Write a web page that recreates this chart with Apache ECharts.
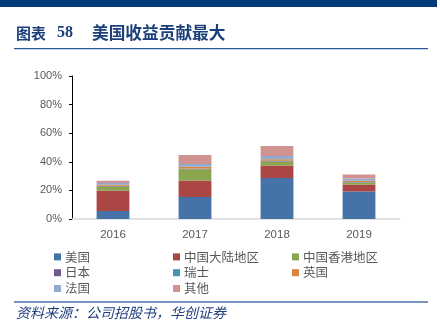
<!DOCTYPE html>
<html>
<head>
<meta charset="utf-8">
<script src="https://cdn.jsdelivr.net/npm/echarts@6/dist/echarts.min.js"></script>
<style>
html,body{margin:0;padding:0;background:#fff;}
#c{width:440px;height:331px;}
</style>
</head>
<body>
<div id="c"></div>
<script>
var categories = ['2016', '2017', '2018', '2019'];
var seriesNames = ['美国', '中国大陆地区', '中国香港地区', '日本', '瑞士', '英国', '法国', '其他'];
var usa      = [5.6, 15.3, 28.6, 19.2];
var mainland = [14.3, 11.6, 8.8, 4.9];
var hongkong = [2.8, 7.9, 2.7, 1.4];
var japan    = [0.3, 0.3, 0.3, 0.2];
var swiss    = [0.2, 0.2, 0.3, 0.2];
var uk       = [0.7, 1.2, 1.1, 0.9];
var france   = [1.2, 1.9, 2.3, 1.6];
var others   = [1.6, 6.3, 7.0, 2.8];
var yTicks = [0, 20, 40, 60, 80, 100];

var titleLabel = '图表';
var titleNum = '58';
var titleMain = '美国收益贡献最大';
var sourceText = '资料来源：公司招股书，华创证券';

var colors = ['#4572A7', '#AA4643', '#89A54E', '#71588F', '#4198AF', '#DB843D', '#93A9CF', '#D19392'];
var allData = [usa, mainland, hongkong, japan, swiss, uk, france, others];

var series = seriesNames.map(function (n, i) {
  return {
    name: n,
    type: 'bar',
    stack: 'total',
    barWidth: '40%',
    data: allData[i],
    itemStyle: { color: colors[i] }
  };
});

var chart = echarts.init(document.getElementById('c'));
chart.setOption({
  animation: false,
  color: colors,
  grid: { left: 72, right: 40, top: 76, height: 143, containLabel: false },
  xAxis: {
    type: 'category',
    data: categories,
    axisLine: { lineStyle: { color: '#D9D9D9', width: 1.5 } },
    axisTick: { show: false },
    axisLabel: { color: '#595959', fontSize: 11.5, fontFamily: 'Liberation Sans, Arial', margin: 10 }
  },
  yAxis: {
    type: 'value',
    min: yTicks[0],
    max: yTicks[yTicks.length - 1],
    interval: yTicks[1] - yTicks[0],
    axisLine: { show: true, lineStyle: { color: '#000', width: 1 } },
    axisTick: { show: true, length: 3, lineStyle: { color: '#000' } },
    splitLine: { show: false },
    axisLabel: { color: '#595959', fontSize: 11, fontFamily: 'Liberation Sans, Arial', margin: 10,
      formatter: function (v) { return v + '%'; } }
  },
  legend: {
    left: 49,
    top: 244,
    width: 370,
    itemWidth: 7,
    itemHeight: 7,
    itemGap: 0,
    icon: 'rect',
    selectedMode: false,
    data: seriesNames,
    textStyle: { color: '#595959', fontSize: 12.5, width: 108, lineHeight: 15.8, height: 15.8,
      fontFamily: 'Noto Sans CJK SC' , padding: [0,0,0,-1]}
  },
  graphic: [
    { type: 'rect', shape: { x: 0, y: 0, width: 437, height: 7 }, style: { fill: '#033A7A' } },
    { type: 'text', x: 16, y: 33, style: { text: titleLabel, fill: '#1B3F7A', font: 'bold 15px "Noto Sans CJK SC"', verticalAlign: 'middle' } },
    { type: 'text', x: 57, y: 33, style: { text: titleNum, fill: '#1B3F7A', font: 'bold 16px "Liberation Serif"', verticalAlign: 'middle' } },
    { type: 'text', x: 92, y: 33, style: { text: titleMain, fill: '#1B3F7A', font: 'bold 16.7px "Noto Sans CJK SC"', verticalAlign: 'middle' } },
    { type: 'rect', shape: { x: 14, y: 48, width: 414, height: 1.3 }, style: { fill: '#2E5A99' } },
    { type: 'rect', shape: { x: 14, y: 301.3, width: 414, height: 1.5 }, style: { fill: '#4A6FA5' } },
    { type: 'text', x: 16, y: 312.5, style: { text: sourceText, fill: '#1F3F7F', font: 'italic 14px "Noto Sans CJK SC"', verticalAlign: 'middle' } }
  ],
  series: series
});
</script>
</body>
</html>
